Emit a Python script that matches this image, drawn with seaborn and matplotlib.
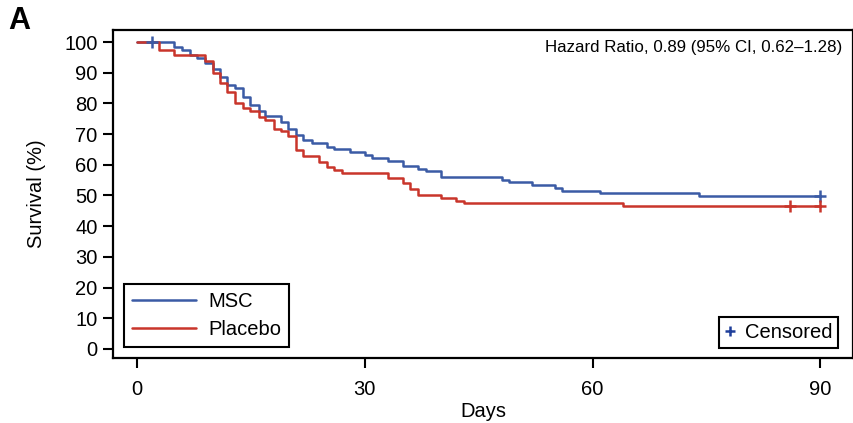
import numpy as np
import pandas as pd
import matplotlib
matplotlib.use("Agg")
import matplotlib.pyplot as plt
import seaborn as sns
from matplotlib.lines import Line2D

# Kaplan-Meier steps (day, survival %)
msc_days = [0, 4.9, 5.9, 7.0, 7.9, 9.0, 10.0, 10.9, 11.9, 12.9, 13.9, 14.9, 16.0, 16.9,
            18.9, 19.9, 20.9, 21.9, 23.0, 25.0, 26.0, 28.0, 30.0, 31.0, 33.0, 35.0, 37.0,
            38.0, 40.0, 48.0, 49.0, 52.0, 55.0, 56.0, 61.0, 74.0, 90.0]
msc_surv = [100, 98.5, 97.4, 95.8, 94.9, 93.0, 91.1, 88.7, 86.0, 84.9, 82.2, 79.5, 77.5, 75.9,
            74.0, 71.5, 69.7, 68.1, 67.0, 65.9, 65.1, 64.2, 63.2, 62.3, 61.3, 59.6, 58.7,
            57.9, 55.9, 55.0, 54.3, 53.3, 52.4, 51.6, 50.7, 49.8, 49.8]

pbo_days = [0, 2.9, 4.9, 9.0, 10.0, 10.9, 11.9, 12.9, 13.9, 14.9, 16.0, 16.9, 18.0, 18.9,
            19.9, 20.9, 21.9, 24.0, 25.0, 26.0, 27.0, 33.0, 35.0, 36.0, 37.0, 40.0, 42.0,
            43.0, 64.0, 90.0]
pbo_surv = [100, 97.3, 95.7, 93.8, 89.8, 86.5, 83.8, 80.2, 78.4, 77.5, 75.7, 74.6, 71.7, 71.1,
            69.3, 64.7, 62.9, 60.9, 59.3, 58.3, 57.4, 55.6, 54.0, 52.0, 50.2, 49.3, 48.3,
            47.4, 46.6, 46.6]

# censoring marks
msc_cens_days = [2, 90]
msc_cens_surv = [100, 49.8]
pbo_cens_days = [86, 90]
pbo_cens_surv = [46.6, 46.6]

arms = ["MSC", "Placebo"]
colors = {"MSC": "#3B5BA5", "Placebo": "#C9352B"}

df = pd.concat([
    pd.DataFrame({"Days": msc_days, "Survival": msc_surv, "Arm": "MSC"}),
    pd.DataFrame({"Days": pbo_days, "Survival": pbo_surv, "Arm": "Placebo"}),
])
cens = pd.concat([
    pd.DataFrame({"Days": msc_cens_days, "Survival": msc_cens_surv, "Arm": "MSC"}),
    pd.DataFrame({"Days": pbo_cens_days, "Survival": pbo_cens_surv, "Arm": "Placebo"}),
])

sns.set_style("ticks")
plt.rcParams["font.family"] = ["Liberation Sans", "DejaVu Sans"]
for k in ["text.color", "axes.labelcolor", "xtick.color", "ytick.color"]:
    plt.rcParams[k] = "black"

fig = plt.figure(figsize=(8.54, 4.23), dpi=100)
ax = fig.add_axes([0.132, 0.154, 0.867, 0.775])

sns.lineplot(data=df, x="Days", y="Survival", hue="Arm", hue_order=arms, palette=colors,
             drawstyle="steps-post", estimator=None, linewidth=1.8, legend=False, ax=ax)
for arm in arms:
    sub = cens[cens["Arm"] == arm]
    ax.plot(sub["Days"], sub["Survival"], linestyle="none", marker="+", markersize=9,
            markeredgewidth=1.8, color=colors[arm])

ax.set_xlim(-3.2, 94.3)
ax.set_ylim(-2.9, 103.9)
ax.set_xticks([0, 30, 60, 90])
ax.set_yticks(np.arange(0, 101, 10))
ax.tick_params(axis="both", labelsize=14.5, length=7, width=1.5, direction="out", pad=4)
ax.tick_params(axis="x", pad=9)
for s in ax.spines.values():
    s.set_linewidth(1.6)
    s.set_color("black")
ax.set_xlabel("Days", fontsize=14.5, labelpad=2)
ax.set_ylabel("Survival (%)", fontsize=14.5, labelpad=13)

handles = [Line2D([], [], color=colors[a], linewidth=1.8) for a in arms]
leg1 = ax.legend(handles, arms, loc="lower left", bbox_to_anchor=(0.015, 0.033),
                 borderaxespad=0, fontsize=14.5, handlelength=3.2, handletextpad=0.6,
                 labelspacing=0.45, borderpad=0.4, fancybox=False, framealpha=1,
                 edgecolor="black")
leg1.get_frame().set_linewidth(1.5)
ax.add_artist(leg1)

cens_handle = Line2D([], [], linestyle="none", marker="+", markersize=7,
                     markeredgewidth=1.8, color="#1F3F9A")
leg2 = ax.legend([cens_handle], ["Censored"], loc="lower right",
                 bbox_to_anchor=(0.98, 0.03), fontsize=14.5, handlelength=0.5,
                 handletextpad=0.5, borderpad=0.3, borderaxespad=0, fancybox=False,
                 framealpha=1, edgecolor="black")
leg2.get_frame().set_linewidth(1.5)

ax.text(0.985, 0.97, "Hazard Ratio, 0.89 (95% CI, 0.62\u20131.28)", transform=ax.transAxes,
        ha="right", va="top", fontsize=12.2)

fig.text(0.01, 0.985, "A", fontsize=22, fontweight="bold", ha="left", va="top")

fig.savefig("out.png", dpi=100)
